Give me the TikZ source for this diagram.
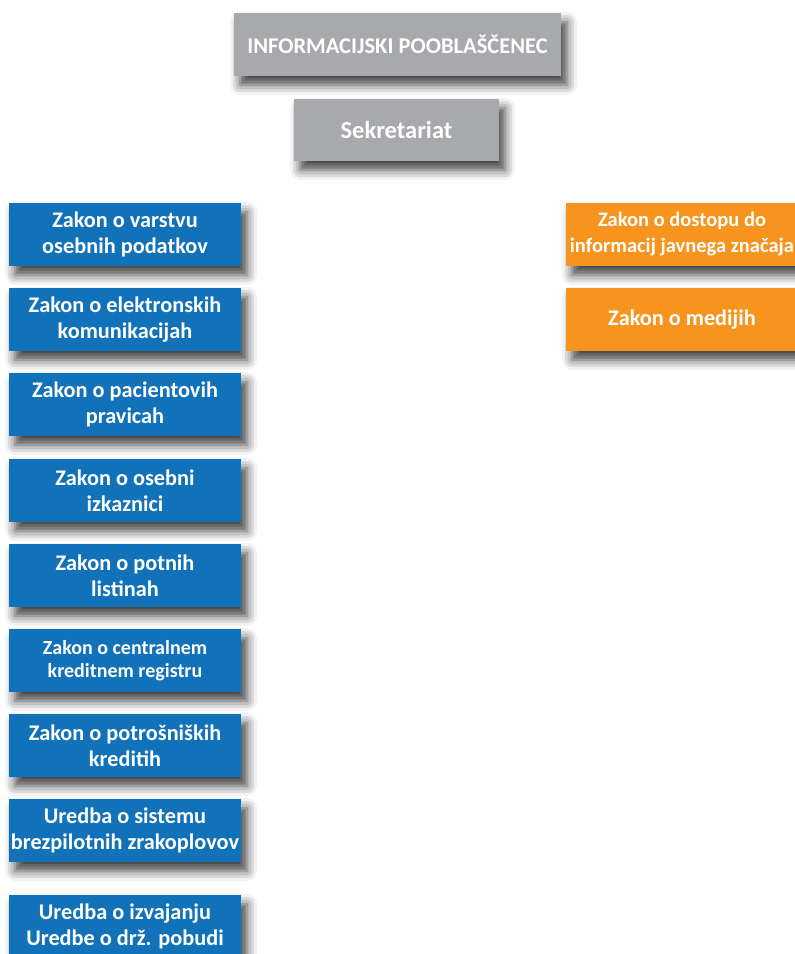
\documentclass[tikz,border=0pt]{standalone}
\usepackage{fontspec}
\setmainfont{Carlito}
\usetikzlibrary{shadows.blur}

\begin{document}
\begin{tikzpicture}[x=1pt, y=-1pt,
    orgbox/.style={minimum height=63pt, inner sep=0pt, align=center, text=white,
        font=\bfseries\fontsize{22.3}{26}\selectfont,
        blur shadow={shadow xshift=6pt, shadow yshift=-9pt, shadow blur radius=10pt, shadow opacity=75}},
    headbox/.style={orgbox, fill=headcolor},
    lawbox/.style={orgbox, fill=lawcolor, minimum width=232pt},
    infobox/.style={orgbox, fill=infocolor, minimum width=232pt}]
    % Define colors
    \definecolor{headcolor}{RGB}{167,169,172} % Gray
    \definecolor{lawcolor}{RGB}{17,114,186}   % Blue
    \definecolor{infocolor}{RGB}{247,148,30}  % Orange

    \useasboundingbox (0,0) rectangle (795,954);

    % Head and secretariat
    \node[headbox, minimum width=327pt, font=\bfseries\fontsize{22.5}{26}\selectfont] (poob) at (397.5,44.5) {INFORMACIJSKI POOBLAŠČENEC};
    \node[headbox, minimum width=205pt, minimum height=62pt, font=\bfseries\fontsize{24.5}{28}\selectfont] (sekr) at (396.5,130) {Sekretariat};

    % Personal data laws
    \foreach \y/\name/\txt in {234.5/varstvo/{Zakon o varstvu\\osebnih podatkov},
        319.5/komunik/{Zakon o elektronskih\\komunikacijah},
        404.5/pacient/{Zakon o pacientovih\\pravicah},
        490.5/izkaz/{Zakon o osebni\\izkaznici},
        575.5/listine/{Zakon o potnih\\listinah},
        745.5/kredit/{Zakon o potrošniških\\kreditih},
        830.5/drone/{Uredba o sistemu\\brezpilotnih zrakoplovov},
        926.5/pobuda/{Uredba o izvajanju\\Uredbe o drž. pobudi}}
        {
        \node[lawbox] (\name) at (125,\y) {\txt};
    }
    \node[lawbox, font=\bfseries\fontsize{20}{23}\selectfont] (register) at (125,660.5) {Zakon o centralnem\\kreditnem registru};

    % Public information laws
    \node[infobox, font=\bfseries\fontsize{20.5}{26}\selectfont] (dostop) at (682,234.5) {Zakon o dostopu do\\informacij javnega značaja};
    \node[infobox] (mediji) at (682,319.5) {Zakon o medijih};
\end{tikzpicture}
\end{document}
